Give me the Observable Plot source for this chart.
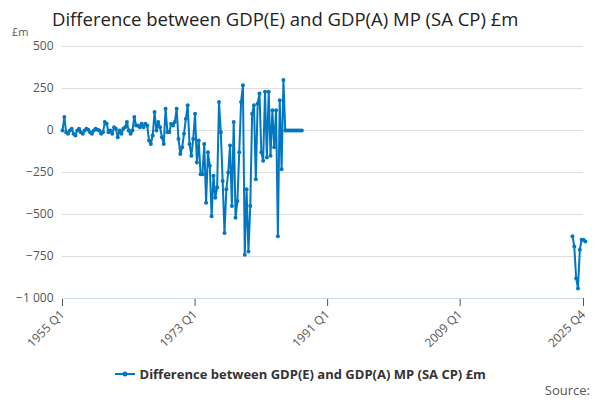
<!DOCTYPE html>
<html><head><meta charset="utf-8">
<script src="https://cdn.jsdelivr.net/npm/d3@7"></script>
<script src="https://cdn.jsdelivr.net/npm/@observablehq/plot@0.6"></script>
<style>
body{margin:0;font-family:"Open Sans",sans-serif;background:#fff;width:600px;height:400px;position:relative;overflow:hidden}
#t{position:absolute;left:52px;top:6px;font-size:18.5px;color:#222}
#u{position:absolute;left:12px;top:24px;font-size:11px;color:#555}
#c{position:absolute;left:0;top:34px}
#l{position:absolute;top:365px;left:0;width:600px;text-align:center;font-size:13px;font-weight:bold;color:#333}
#s{position:absolute;right:10px;top:381px;font-size:13px;color:#555}
</style></head><body>
<div id="t">Difference between GDP(E) and GDP(A) MP (SA CP) £m</div>
<div id="u">£m</div>
<div id="c"></div>
<div id="l"><svg width="22" height="10"><line x1="1" y1="5" x2="21" y2="5" stroke="#0077c0" stroke-width="2"/><circle cx="11" cy="5" r="2.5" fill="#0077c0"/></svg> Difference between GDP(E) and GDP(A) MP (SA CP) £m</div>
<div id="s">Source:</div>
<script>
const early = [0,80,-10,-20,0,10,-20,-30,0,10,-10,-20,0,10,5,-10,-20,0,10,5,0,-20,-10,50,
40,-10,0,-20,20,10,-40,0,-20,10,20,50,0,-20,0,80,30,30,20,40,
20,40,30,-60,-80,-30,110,0,50,20,-40,-80,130,-10,-10,40,
30,50,130,-50,-140,-100,-20,70,150,-80,-150,-50,
100,-190,-60,-260,-260,-80,-430,-130,-210,-510,-270,-400,-340,170,-10,-300,-610,-350,-250,-90,
-450,50,-520,-420,-130,170,270,-740,-350,-720,-450,100,150,-290,160,220,-130,-180,230,-160,
230,-150,120,-100,120,-630,180,-230,300,0,0,0,0,0,0,0,0,0,0];
const late = [-630,-690,-880,-940,-710,-650,-650,-660];
const lateStart = 2024.25;
const ticks = [1955,1973,1991,2009,2025.75];
const tickLabels = ["1955 Q1","1973 Q1","1991 Q1","2009 Q1","2025 Q4"];
const data = [
 ...early.map((v,i)=>({x:1955+i/4,y:v,s:"a"})),
 ...late.map((v,i)=>({x:lateStart+i/4,y:v,s:"b"}))
];
const fmt = d => d3.format(",")(d).replace(",", " ").replace("-", "−");
const chart = Plot.plot({
 width:600,height:320,marginTop:12,marginLeft:62,marginRight:17,marginBottom:56,
 style:{fontFamily:"Open Sans, sans-serif",fontSize:"12px",color:"#555"},
 x:{domain:[1955,2025.75],ticks,tickFormat:d=>tickLabels[ticks.indexOf(d)],tickRotate:-45,label:null,tickSize:8},
 y:{domain:[-1000,500],ticks:[-1000,-750,-500,-250,0,250,500],tickFormat:fmt,label:null,tickSize:0},
 marks:[
  Plot.gridY([-1000,-750,-500,-250,0,250,500],{stroke:"#ddd",strokeOpacity:1}),
  Plot.ruleY([-1000],{stroke:"#ccd6eb"}),
  Plot.line(data,{x:"x",y:"y",z:"s",stroke:"#0077c0",strokeWidth:2}),
  Plot.dot(data,{x:"x",y:"y",fill:"#0077c0",r:2})
 ]
});
document.getElementById("c").appendChild(chart);
</script></body></html>
